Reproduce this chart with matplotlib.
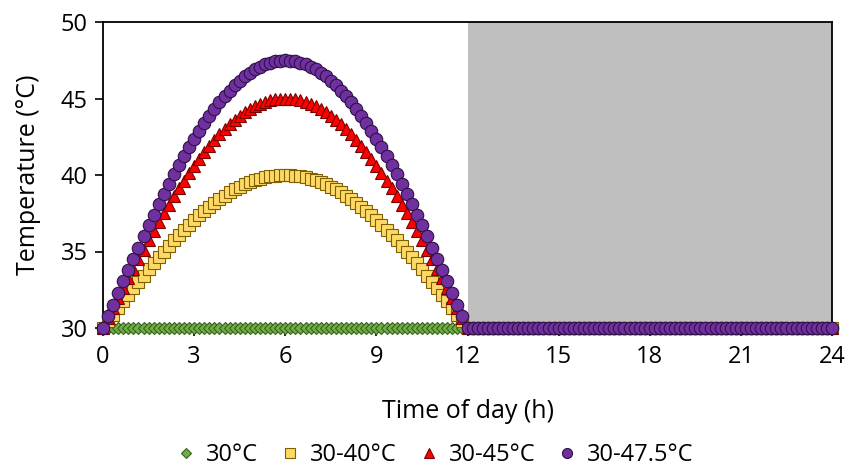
import matplotlib
matplotlib.use("Agg")
import matplotlib.pyplot as plt

plt.rcParams['font.family'] = ['Open Sans', 'DejaVu Sans']

# time of day in minutes (10-minute steps, 0..1440)
minutes = [
    0, 10, 20, 30, 40, 50, 60, 70, 80, 90, 100, 110, 120, 130, 140, 150, 160, 170,
    180, 190, 200, 210, 220, 230, 240, 250, 260, 270, 280, 290, 300, 310, 320, 330,
    340, 350, 360, 370, 380, 390, 400, 410, 420, 430, 440, 450, 460, 470, 480, 490,
    500, 510, 520, 530, 540, 550, 560, 570, 580, 590, 600, 610, 620, 630, 640, 650,
    660, 670, 680, 690, 700, 710, 720, 730, 740, 750, 760, 770, 780, 790, 800, 810,
    820, 830, 840, 850, 860, 870, 880, 890, 900, 910, 920, 930, 940, 950, 960, 970,
    980, 990, 1000, 1010, 1020, 1030, 1040, 1050, 1060, 1070, 1080, 1090, 1100, 1110,
    1120, 1130, 1140, 1150, 1160, 1170, 1180, 1190, 1200, 1210, 1220, 1230, 1240, 1250,
    1260, 1270, 1280, 1290, 1300, 1310, 1320, 1330, 1340, 1350, 1360, 1370, 1380, 1390,
    1400, 1410, 1420, 1430, 1440,
]

night = [
    30.0, 30.0, 30.0, 30.0, 30.0, 30.0, 30.0, 30.0, 30.0, 30.0, 30.0, 30.0,
    30.0, 30.0, 30.0, 30.0, 30.0, 30.0, 30.0, 30.0, 30.0, 30.0, 30.0, 30.0,
    30.0, 30.0, 30.0, 30.0, 30.0, 30.0, 30.0, 30.0, 30.0, 30.0, 30.0, 30.0,
    30.0, 30.0, 30.0, 30.0, 30.0, 30.0, 30.0, 30.0, 30.0, 30.0, 30.0, 30.0,
    30.0, 30.0, 30.0, 30.0, 30.0, 30.0, 30.0, 30.0, 30.0, 30.0, 30.0, 30.0,
    30.0, 30.0, 30.0, 30.0, 30.0, 30.0, 30.0, 30.0, 30.0, 30.0, 30.0, 30.0,
]

day_30 = [
    30.0, 30.0, 30.0, 30.0, 30.0, 30.0, 30.0, 30.0, 30.0, 30.0, 30.0, 30.0,
    30.0, 30.0, 30.0, 30.0, 30.0, 30.0, 30.0, 30.0, 30.0, 30.0, 30.0, 30.0,
    30.0, 30.0, 30.0, 30.0, 30.0, 30.0, 30.0, 30.0, 30.0, 30.0, 30.0, 30.0,
    30.0, 30.0, 30.0, 30.0, 30.0, 30.0, 30.0, 30.0, 30.0, 30.0, 30.0, 30.0,
    30.0, 30.0, 30.0, 30.0, 30.0, 30.0, 30.0, 30.0, 30.0, 30.0, 30.0, 30.0,
    30.0, 30.0, 30.0, 30.0, 30.0, 30.0, 30.0, 30.0, 30.0, 30.0, 30.0, 30.0, 30.0,
]

day_40 = [
    30.00, 30.44, 30.87, 31.31, 31.74, 32.16, 32.59, 33.01, 33.42, 33.83, 34.23, 34.62,
    35.00, 35.37, 35.74, 36.09, 36.43, 36.76, 37.07, 37.37, 37.66, 37.93, 38.19, 38.43,
    38.66, 38.87, 39.06, 39.24, 39.40, 39.54, 39.66, 39.76, 39.85, 39.91, 39.96, 39.99,
    40.00,
    39.99, 39.96, 39.91, 39.85, 39.76, 39.66, 39.54, 39.40, 39.24, 39.06, 38.87, 38.66,
    38.43, 38.19, 37.93, 37.66, 37.37, 37.07, 36.76, 36.43, 36.09, 35.74, 35.37, 35.00,
    34.62, 34.23, 33.83, 33.42, 33.01, 32.59, 32.16, 31.74, 31.31, 30.87, 30.44, 30.00,
]

day_45 = [
    30.00, 30.65, 31.31, 31.96, 32.60, 33.25, 33.88, 34.51, 35.13, 35.74, 36.34, 36.93,
    37.50, 38.06, 38.60, 39.13, 39.64, 40.13, 40.61, 41.06, 41.49, 41.90, 42.29, 42.65,
    42.99, 43.31, 43.59, 43.86, 44.10, 44.31, 44.49, 44.64, 44.77, 44.87, 44.94, 44.99,
    45.00,
    44.99, 44.94, 44.87, 44.77, 44.64, 44.49, 44.31, 44.10, 43.86, 43.59, 43.31, 42.99,
    42.65, 42.29, 41.90, 41.49, 41.06, 40.61, 40.13, 39.64, 39.13, 38.60, 38.06, 37.50,
    36.93, 36.34, 35.74, 35.13, 34.51, 33.88, 33.25, 32.60, 31.96, 31.31, 30.65, 30.00,
]

day_475 = [
    30.00, 30.76, 31.53, 32.28, 33.04, 33.79, 34.53, 35.26, 35.99, 36.70, 37.40, 38.08,
    38.75, 39.40, 40.04, 40.65, 41.25, 41.82, 42.37, 42.90, 43.41, 43.88, 44.34, 44.76,
    45.16, 45.52, 45.86, 46.17, 46.44, 46.69, 46.90, 47.09, 47.23, 47.35, 47.43, 47.48,
    47.50,
    47.48, 47.43, 47.35, 47.23, 47.09, 46.90, 46.69, 46.44, 46.17, 45.86, 45.52, 45.16,
    44.76, 44.34, 43.88, 43.41, 42.90, 42.37, 41.82, 41.25, 40.65, 40.04, 39.40, 38.75,
    38.08, 37.40, 36.70, 35.99, 35.26, 34.53, 33.79, 33.04, 32.28, 31.53, 30.76, 30.00,
]

series_labels = ['30°C', '30-40°C', '30-45°C', '30-47.5°C']
x_ticks = [0, 3, 6, 9, 12, 15, 18, 21, 24]
y_ticks = [30, 35, 40, 45, 50]
dark_start, dark_end = 12, 24

hours = [m / 60 for m in minutes]
series = [day_30 + night, day_40 + night, day_45 + night, day_475 + night]

styles = [
    dict(marker='D', ms=6.0, mfc='#70AD47', mec='#38601F', mew=0.8),
    dict(marker='s', ms=8.5, mfc='#FFD966', mec='#7F6000', mew=0.8),
    dict(marker='^', ms=9.0, mfc='#FF0000', mec='#7A0000', mew=0.8),
    dict(marker='o', ms=9.0, mfc='#7030A0', mec='#2E1145', mew=0.8),
]

fig = plt.figure(figsize=(8.46, 4.70), dpi=100)
ax = fig.add_axes([103 / 846, 1 - 328 / 470, (832 - 103) / 846, (328 - 22) / 470])

ax.axvspan(dark_start, dark_end, color='#BFBFBF', zorder=0, lw=0)

for vals, lab, st in zip(series, series_labels, styles):
    ax.plot(hours, vals, ls='none', label=lab, clip_on=False, zorder=3, **st)

ax.set_xlim(0, 24)
ax.set_ylim(30, 50)
ax.set_xticks(x_ticks)
ax.set_yticks(y_ticks)
ax.tick_params(axis='both', direction='out', length=6, width=1.2, labelsize=17, colors='black')
ax.tick_params(axis='x', pad=6)
ax.tick_params(axis='y', pad=5)
for sp in ax.spines.values():
    sp.set_linewidth(1.3)
    sp.set_color('black')

ax.set_xlabel('Time of day (h)', fontsize=18, labelpad=22)
ax.set_ylabel('Temperature (°C)', fontsize=18, labelpad=14)

leg = fig.legend(loc='center', bbox_to_anchor=(0.515, 1 - 455 / 470), ncol=4, frameon=False,
                 fontsize=17, handlelength=0.7, handletextpad=0.5, columnspacing=1.0,
                 markerscale=0.8, borderaxespad=0.0, borderpad=0.1)

fig.savefig('out.png', dpi=100)
